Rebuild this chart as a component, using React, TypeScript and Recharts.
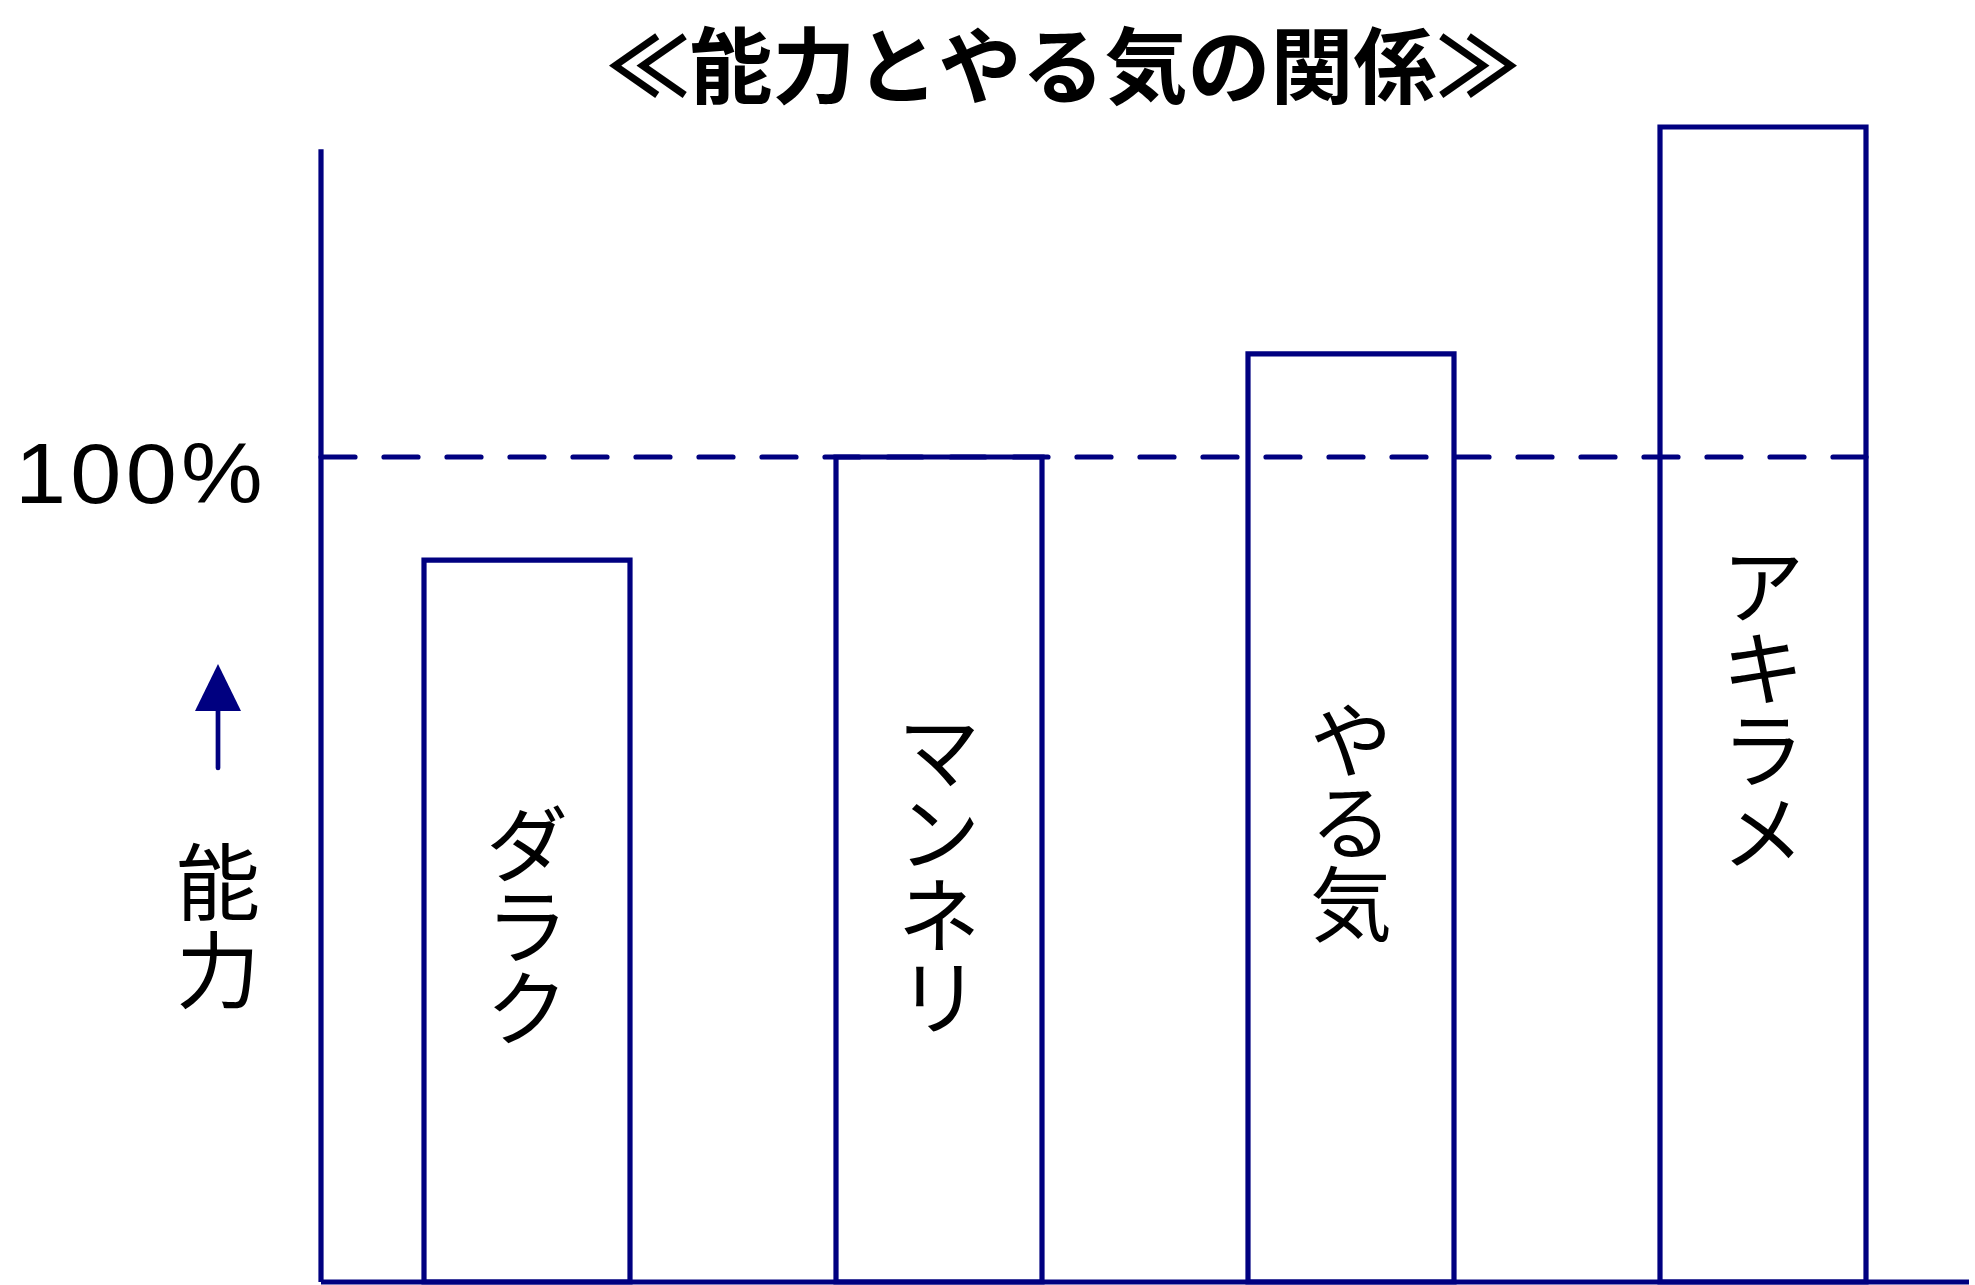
import React from 'react';
import { BarChart, Bar, XAxis, YAxis, ReferenceLine, LabelList } from 'recharts';

// 能力とやる気の関係
const categories = ['ダラク', 'マンネリ', 'やる気', 'アキラメ'];
const abilityValues = [87.5, 100, 112.5, 140];
const yTicks = [100];
const yDomain = [0, 140];
const axisTop = 137.3;

const chartData = categories.map((name, i) => ({ name, value: abilityValues[i] }));

const WIDTH = 1975;
const HEIGHT = 1285;
const MARGIN = { top: 127, right: 6, bottom: 0, left: 0 };
const Y_AXIS_WIDTH = 321;
const BAR_SIZE = 206;
const NAVY = '#000080';
const LINE_W = 5.2;
const JP_FONT = '"Noto Sans CJK JP", "Noto Sans CJK SC", sans-serif';

const bandWidth = (WIDTH - MARGIN.left - MARGIN.right - Y_AXIS_WIDTH) / categories.length;

// 縦書きラベル（棒の中央）
function VerticalLabel(props: any) {
  const { x, y, width, height, value } = props;
  const chars = Array.from(String(value));
  const cx = x + width / 2;
  const cy = y + height / 2;
  const adv = 82;
  return (
    <g>
      {chars.map((c, i) => (
        <text
          key={i}
          x={cx}
          y={cy + (i - (chars.length - 1) / 2) * adv}
          textAnchor="middle"
          dominantBaseline="central"
          fontFamily={JP_FONT}
          fontSize={82}
          fill="#000"
        >
          {c}
        </text>
      ))}
    </g>
  );
}

function PercentTick(props: any) {
  const { x, y, payload } = props;
  return (
    <text
      transform={`translate(${x - 54},${y + 46}) scale(1.08,1)`}
      x={0}
      y={0}
      textAnchor="end"
      fontFamily='"Liberation Sans", Arial, sans-serif'
      fontSize={85}
      letterSpacing={4}
      fill="#000"
    >
      {`${payload.value}%`}
    </text>
  );
}

// 軸ラベル: ↑ 能力
function AbilityLabel(props: any) {
  const { viewBox } = props;
  const ax = viewBox.x + 218;
  return (
    <g>
      <polygon points={`${ax},664 ${ax - 23},711 ${ax + 23},711`} fill={NAVY} />
      <line x1={ax} y1={705} x2={ax} y2={768} stroke={NAVY} strokeWidth={4.7} strokeLinecap="round" />
      <text x={ax} y={877} textAnchor="middle" dominantBaseline="central" fontFamily={JP_FONT} fontSize={84} fill="#000">能</text>
      <text x={ax} y={965} textAnchor="middle" dominantBaseline="central" fontFamily={JP_FONT} fontSize={84} fill="#000">力</text>
    </g>
  );
}

export default function App() {
  return (
    <div style={{ position: 'absolute', left: 0, top: 0, width: WIDTH, height: HEIGHT, background: '#fff' }}>
      <BarChart width={WIDTH} height={HEIGHT} data={chartData} margin={MARGIN} barSize={BAR_SIZE}>
        <text
          x={1063}
          y={61}
          textAnchor="middle"
          dominantBaseline="central"
          fontFamily={JP_FONT}
          fontSize={83}
          fontWeight="bold"
          fill="#000"
        >
          ≪能力とやる気の関係≫
        </text>
        <XAxis
          dataKey="name"
          tick={false}
          tickLine={false}
          height={3}
          axisLine={{ stroke: NAVY, strokeWidth: LINE_W }}
        />
        <YAxis
          type="number"
          domain={yDomain}
          ticks={yTicks}
          width={Y_AXIS_WIDTH}
          axisLine={false}
          tickLine={false}
          tickSize={0}
          tickMargin={0}
          tick={<PercentTick />}
          label={<AbilityLabel />}
        />
        <ReferenceLine
          segment={[{ x: categories[0], y: 0 }, { x: categories[0], y: axisTop }]}
          position="start"
          stroke={NAVY}
          strokeWidth={LINE_W}
        />
        <ReferenceLine
          y={100}
          shape={(p: any) => (
            <line
              x1={p.x1}
              y1={p.y1}
              x2={p.x2 - (bandWidth - BAR_SIZE) / 2}
              y2={p.y2}
              stroke={NAVY}
              strokeWidth={LINE_W}
              strokeDasharray="34 29"
              strokeLinecap="round"
            />
          )}
        />
        <Bar dataKey="value" fill="#fff" stroke={NAVY} strokeWidth={LINE_W} isAnimationActive={false}>
          <LabelList dataKey="name" content={<VerticalLabel />} />
        </Bar>
      </BarChart>
    </div>
  );
}
